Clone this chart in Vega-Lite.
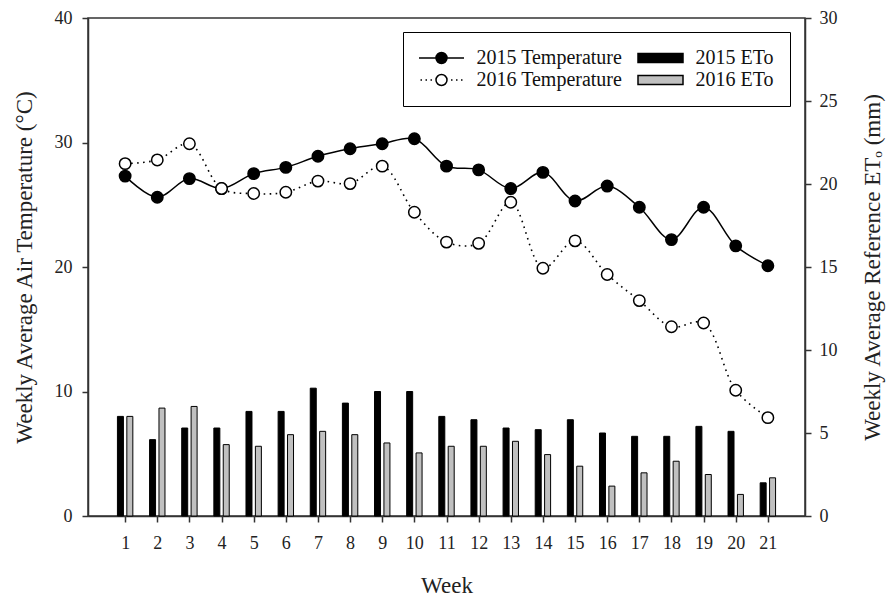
{
  "$schema": "https://vega.github.io/schema/vega-lite/v6.json",
  "autosize": "none",
  "width": 717,
  "height": 498,
  "padding": {"left": 88, "top": 18, "right": 81, "bottom": 82},
  "background": "white",
  "datasets": {
    "temp": [
      {"week": 1, "series": "2015 Temperature", "value": 27.3},
      {"week": 2, "series": "2015 Temperature", "value": 25.6},
      {"week": 3, "series": "2015 Temperature", "value": 27.1},
      {"week": 4, "series": "2015 Temperature", "value": 26.3},
      {"week": 5, "series": "2015 Temperature", "value": 27.5},
      {"week": 6, "series": "2015 Temperature", "value": 28.0},
      {"week": 7, "series": "2015 Temperature", "value": 28.9},
      {"week": 8, "series": "2015 Temperature", "value": 29.5},
      {"week": 9, "series": "2015 Temperature", "value": 29.9},
      {"week": 10, "series": "2015 Temperature", "value": 30.3},
      {"week": 11, "series": "2015 Temperature", "value": 28.1},
      {"week": 12, "series": "2015 Temperature", "value": 27.8},
      {"week": 13, "series": "2015 Temperature", "value": 26.3},
      {"week": 14, "series": "2015 Temperature", "value": 27.6},
      {"week": 15, "series": "2015 Temperature", "value": 25.3},
      {"week": 16, "series": "2015 Temperature", "value": 26.5},
      {"week": 17, "series": "2015 Temperature", "value": 24.8},
      {"week": 18, "series": "2015 Temperature", "value": 22.2},
      {"week": 19, "series": "2015 Temperature", "value": 24.8},
      {"week": 20, "series": "2015 Temperature", "value": 21.7},
      {"week": 21, "series": "2015 Temperature", "value": 20.1},
      {"week": 1, "series": "2016 Temperature", "value": 28.3},
      {"week": 2, "series": "2016 Temperature", "value": 28.6},
      {"week": 3, "series": "2016 Temperature", "value": 29.9},
      {"week": 4, "series": "2016 Temperature", "value": 26.3},
      {"week": 5, "series": "2016 Temperature", "value": 25.9},
      {"week": 6, "series": "2016 Temperature", "value": 26.0},
      {"week": 7, "series": "2016 Temperature", "value": 26.9},
      {"week": 8, "series": "2016 Temperature", "value": 26.7},
      {"week": 9, "series": "2016 Temperature", "value": 28.1},
      {"week": 10, "series": "2016 Temperature", "value": 24.4},
      {"week": 11, "series": "2016 Temperature", "value": 22.0},
      {"week": 12, "series": "2016 Temperature", "value": 21.9},
      {"week": 13, "series": "2016 Temperature", "value": 25.2},
      {"week": 14, "series": "2016 Temperature", "value": 19.9},
      {"week": 15, "series": "2016 Temperature", "value": 22.1},
      {"week": 16, "series": "2016 Temperature", "value": 19.4},
      {"week": 17, "series": "2016 Temperature", "value": 17.3},
      {"week": 18, "series": "2016 Temperature", "value": 15.2},
      {"week": 19, "series": "2016 Temperature", "value": 15.5},
      {"week": 20, "series": "2016 Temperature", "value": 10.1},
      {"week": 21, "series": "2016 Temperature", "value": 7.9}
    ],
    "eto": [
      {"week": 1, "series": "2015 ETo", "value": 6.0},
      {"week": 2, "series": "2015 ETo", "value": 4.6},
      {"week": 3, "series": "2015 ETo", "value": 5.3},
      {"week": 4, "series": "2015 ETo", "value": 5.3},
      {"week": 5, "series": "2015 ETo", "value": 6.3},
      {"week": 6, "series": "2015 ETo", "value": 6.3},
      {"week": 7, "series": "2015 ETo", "value": 7.7},
      {"week": 8, "series": "2015 ETo", "value": 6.8},
      {"week": 9, "series": "2015 ETo", "value": 7.5},
      {"week": 10, "series": "2015 ETo", "value": 7.5},
      {"week": 11, "series": "2015 ETo", "value": 6.0},
      {"week": 12, "series": "2015 ETo", "value": 5.8},
      {"week": 13, "series": "2015 ETo", "value": 5.3},
      {"week": 14, "series": "2015 ETo", "value": 5.2},
      {"week": 15, "series": "2015 ETo", "value": 5.8},
      {"week": 16, "series": "2015 ETo", "value": 5.0},
      {"week": 17, "series": "2015 ETo", "value": 4.8},
      {"week": 18, "series": "2015 ETo", "value": 4.8},
      {"week": 19, "series": "2015 ETo", "value": 5.4},
      {"week": 20, "series": "2015 ETo", "value": 5.1},
      {"week": 21, "series": "2015 ETo", "value": 2.0},
      {"week": 1, "series": "2016 ETo", "value": 6.0},
      {"week": 2, "series": "2016 ETo", "value": 6.5},
      {"week": 3, "series": "2016 ETo", "value": 6.6},
      {"week": 4, "series": "2016 ETo", "value": 4.3},
      {"week": 5, "series": "2016 ETo", "value": 4.2},
      {"week": 6, "series": "2016 ETo", "value": 4.9},
      {"week": 7, "series": "2016 ETo", "value": 5.1},
      {"week": 8, "series": "2016 ETo", "value": 4.9},
      {"week": 9, "series": "2016 ETo", "value": 4.4},
      {"week": 10, "series": "2016 ETo", "value": 3.8},
      {"week": 11, "series": "2016 ETo", "value": 4.2},
      {"week": 12, "series": "2016 ETo", "value": 4.2},
      {"week": 13, "series": "2016 ETo", "value": 4.5},
      {"week": 14, "series": "2016 ETo", "value": 3.7},
      {"week": 15, "series": "2016 ETo", "value": 3.0},
      {"week": 16, "series": "2016 ETo", "value": 1.8},
      {"week": 17, "series": "2016 ETo", "value": 2.6},
      {"week": 18, "series": "2016 ETo", "value": 3.3},
      {"week": 19, "series": "2016 ETo", "value": 2.5},
      {"week": 20, "series": "2016 ETo", "value": 1.3},
      {"week": 21, "series": "2016 ETo", "value": 2.3}
    ]
  },
  "layer": [
    {
      "data": {"name": "eto"},
      "encoding": {
        "x": {
          "field": "week", "type": "quantitative",
          "scale": {"domain": [0, 22], "nice": false, "zero": false},
          "axis": {
            "values": [1,2,3,4,5,6,7,8,9,10,11,12,13,14,15,16,17,18,19,20,21],
            "labelOverlap": false,
            "title": "Week", "titleBaseline": "middle", "titleY": 69, "labelPadding": 12
          }
        },
        "y": {
          "field": "value", "type": "quantitative",
          "scale": {"domain": [0, 30], "nice": false},
          "axis": {
            "orient": "right", "values": [0, 5, 10, 15, 20, 25, 30],
            "title": "Weekly Average Reference ETₒ (mm)",
            "titleAngle": 270, "titleBaseline": "middle", "titleAlign": "center",
            "titleX": 67, "titleY": 249, "labelPadding": 8
          }
        },
        "fill": {
          "field": "series", "type": "nominal",
          "scale": {"domain": ["2015 Temperature", "2016 Temperature", "2015 ETo", "2016 ETo"], "range": ["black", "white", "black", "#c0c0c0"]},
          "legend": {
            "title": null,
            "orient": "none",
            "legendX": 315,
            "legendY": 14,
            "columns": 2,
            "symbolSize": 100,
            "symbolOffset": 12.5,
            "labelOffset": 25,
            "columnPadding": 12,
            "rowPadding": 2,
            "padding": 16,
            "strokeColor": "black",
            "labelFont": "Liberation Serif",
            "labelFontSize": 20,
            "labelColor": "#111",
            "labelLimit": 300,
            "symbolStrokeColor": "black",
            "symbolStrokeWidth": 1.5,
            "symbolOpacity": 1,
            "encode": {
              "symbols": {
                "update": {
                  "shape": {"signal": "datum.value === '2015 Temperature' ? 'M-4.5,0H-1.1M1.1,0H4.5M-1.1,0A1.1,1.1 0 1,1 1.1,0A1.1,1.1 0 1,1 -1.1,0Z' : datum.value === '2016 Temperature' ? 'M-4.2,0H-3.9M-3.2,0H-2.9M-2.2,0H-1.9M1.9,0H2.2M2.9,0H3.2M3.9,0H4.2M-1.1,0A1.1,1.1 0 1,1 1.1,0A1.1,1.1 0 1,1 -1.1,0Z' : 'M-4.5,-0.9H4.5V0.9H-4.5Z'"},
                  "stroke": {"value": "black"},
                  "strokeWidth": {"value": 1.5},
                  "opacity": {"value": 1}
                }
              }
            }
          }
        }
      },
      "layer": [
        {
          "transform": [{"filter": "datum.series === '2015 ETo'"}],
          "mark": {"type": "bar", "width": 6, "xOffset": -4.7, "stroke": "black", "strokeWidth": 1}
        },
        {
          "transform": [{"filter": "datum.series === '2016 ETo'"}],
          "mark": {"type": "bar", "width": 6, "xOffset": 4.7, "stroke": "black", "strokeWidth": 1}
        }
      ]
    },
    {
      "data": {"name": "temp"},
      "encoding": {
        "x": {
          "field": "week", "type": "quantitative",
          "scale": {"domain": [0, 22], "nice": false, "zero": false},
          "axis": {
            "values": [1,2,3,4,5,6,7,8,9,10,11,12,13,14,15,16,17,18,19,20,21],
            "labelOverlap": false,
            "title": "Week", "titleBaseline": "middle", "titleY": 69, "labelPadding": 12
          }
        },
        "y": {
          "field": "value", "type": "quantitative",
          "scale": {"domain": [0, 40], "nice": false},
          "axis": {
            "values": [0, 10, 20, 30, 40],
            "title": "Weekly Average Air Temperature (°C)",
            "titleAngle": 270, "titleBaseline": "middle", "titleAlign": "center",
            "titleX": -64, "titleY": 249, "labelPadding": 10
          }
        }
      },
      "layer": [
        {
          "transform": [{"filter": "datum.series === '2015 Temperature'"}],
          "mark": {"type": "line", "color": "black", "strokeWidth": 1.5, "interpolate": "catmull-rom"}
        },
        {
          "transform": [{"filter": "datum.series === '2016 Temperature'"}],
          "mark": {"type": "line", "color": "black", "strokeWidth": 1.6, "strokeDash": [1.6, 4.4], "interpolate": "catmull-rom"}
        },
        {
          "mark": {"type": "circle", "size": 130, "stroke": "black", "strokeWidth": 1.5, "opacity": 1},
          "encoding": {
            "fill": {
              "field": "series", "type": "nominal",
              "scale": {"domain": ["2015 Temperature", "2016 Temperature", "2015 ETo", "2016 ETo"], "range": ["black", "white", "black", "#c0c0c0"]}
            }
          }
        }
      ]
    }
  ],
  "resolve": {"scale": {"y": "independent"}},
  "config": {
    "font": "Liberation Serif",
    "view": {"stroke": "#333", "strokeWidth": 1.5},
    "axis": {
      "grid": false,
      "domainColor": "#333",
      "domainWidth": 1.5,
      "tickColor": "#333",
      "tickWidth": 1.5,
      "tickSize": 6,
      "labelFont": "Liberation Serif",
      "labelFontSize": 18,
      "labelColor": "#222",
      "titleFont": "Liberation Serif",
      "titleFontSize": 23,
      "titleFontWeight": "normal",
      "titleColor": "#222"
    }
  }
}
